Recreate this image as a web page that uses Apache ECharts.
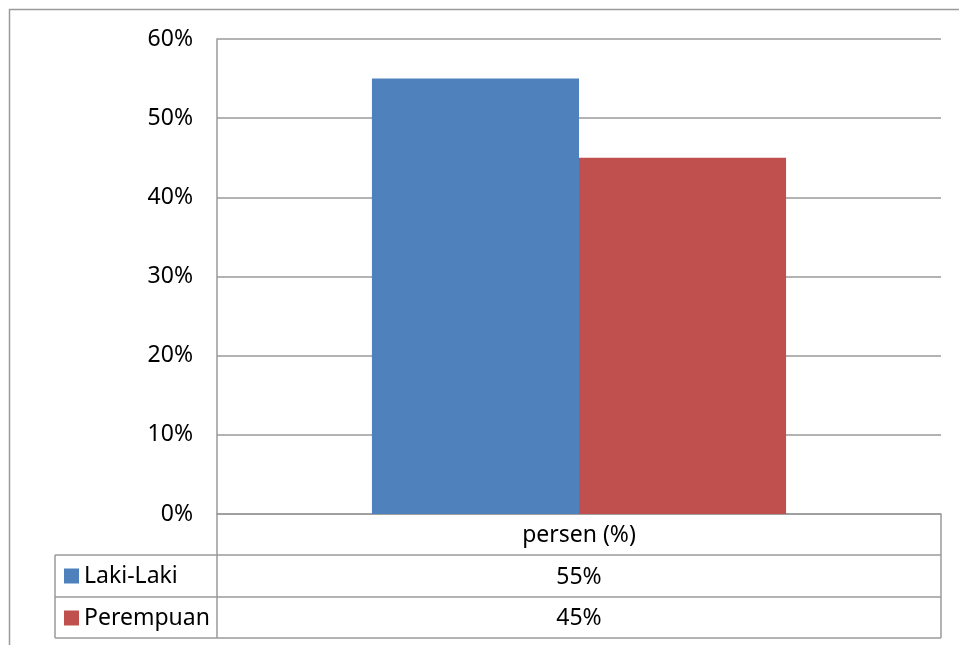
<!DOCTYPE html>
<html lang="id">
<head>
    <meta charset="UTF-8">
    <title>persen (%)</title>
    <script src="https://cdn.jsdelivr.net/npm/echarts@6/dist/echarts.min.js"></script>
    <style>
        html, body { margin: 0; padding: 0; background: #fff; }
        #main { width: 959px; height: 645px; }
    </style>
</head>
<body>
<div id="main"></div>
<script type="text/javascript">
    // data
    var categories = ['persen (%)'];
    var seriesNames = ['Laki-Laki', 'Perempuan'];
    var lakiValues = [55];
    var perempuanValues = [45];
    var yTicks = [0, 10, 20, 30, 40, 50, 60];

    var colors = ['#4F81BD', '#C0504D'];
    var lineColor = '#9a9a9a';
    var font = '"Noto Sans", sans-serif';
    var fs = 23;

    // layout of plot + data table
    var gridLeft = 217, gridRight = 941, gridTop = 39, gridBottom = 514;
    var tableLeft = 55, rowY = [514, 555, 597, 638];

    var myChart = echarts.init(document.getElementById('main'));

    var graphics = [];
    // outer chart border (continues off the picture)
    graphics.push({
        type: 'rect',
        shape: { x: 9.5, y: 9.5, width: 980, height: 680 },
        style: { fill: 'none', stroke: lineColor, lineWidth: 1.5 },
        silent: true
    });
    // table lines
    function hline(x1, x2, y) {
        graphics.push({ type: 'line', shape: { x1: x1, y1: y, x2: x2, y2: y },
            style: { stroke: lineColor, lineWidth: 1.5 }, silent: true });
    }
    function vline(x, y1, y2) {
        graphics.push({ type: 'line', shape: { x1: x, y1: y1, x2: x, y2: y2 },
            style: { stroke: lineColor, lineWidth: 1.5 }, silent: true });
    }
    hline(tableLeft, gridRight, rowY[1]);
    hline(tableLeft, gridRight, rowY[2]);
    hline(tableLeft, gridRight, rowY[3]);
    vline(tableLeft, rowY[1], rowY[3]);
    vline(gridLeft, rowY[0], rowY[3]);
    vline(gridRight, rowY[0], rowY[3]);

    // table values
    var tableValues = [lakiValues, perempuanValues];
    for (var i = 0; i < tableValues.length; i++) {
        for (var j = 0; j < categories.length; j++) {
            var cw = (gridRight - gridLeft) / categories.length;
            graphics.push({
                type: 'text',
                x: gridLeft + cw * (j + 0.5),
                y: (rowY[i + 1] + rowY[i + 2]) / 2 + 1,
                style: {
                    text: tableValues[i][j] + '%',
                    font: fs + 'px ' + font,
                    fill: '#000',
                    align: 'center',
                    verticalAlign: 'middle'
                },
                silent: true
            });
        }
    }

    var option = {
        animation: false,
        color: colors,
        textStyle: { fontFamily: font },
        grid: {
            left: gridLeft,
            right: 959 - gridRight,
            top: gridTop,
            bottom: 645 - gridBottom,
            containLabel: false
        },
        legend: {
            data: seriesNames,
            orient: 'vertical',
            left: 64,
            top: 563,
            padding: 0,
            icon: 'rect',
            itemWidth: 15,
            itemHeight: 15,
            itemGap: 16,
            selectedMode: false,
            textStyle: { fontSize: fs, lineHeight: 26, color: '#000', fontFamily: font }
        },
        xAxis: {
            type: 'category',
            data: categories,
            axisLine: { lineStyle: { color: lineColor, width: 1.5 } },
            axisTick: { show: false },
            axisLabel: { fontSize: fs, color: '#000', margin: 10, fontFamily: font }
        },
        yAxis: {
            type: 'value',
            min: yTicks[0],
            max: yTicks[yTicks.length - 1],
            interval: 10,
            axisLine: { show: true, lineStyle: { color: lineColor, width: 1.5 } },
            axisTick: { show: false },
            splitLine: { lineStyle: { color: lineColor, width: 1.5 } },
            axisLabel: { formatter: '{value}%', fontSize: fs, color: '#000', margin: 24, fontFamily: font }
        },
        series: [
            {
                name: seriesNames[0],
                type: 'bar',
                data: lakiValues,
                barGap: '0%',
                barCategoryGap: '42.8%',
                itemStyle: { color: colors[0] }
            },
            {
                name: seriesNames[1],
                type: 'bar',
                data: perempuanValues,
                barGap: '0%',
                barCategoryGap: '42.8%',
                itemStyle: { color: colors[1] }
            }
        ],
        graphic: graphics
    };
    myChart.setOption(option);
</script>
</body>
</html>
